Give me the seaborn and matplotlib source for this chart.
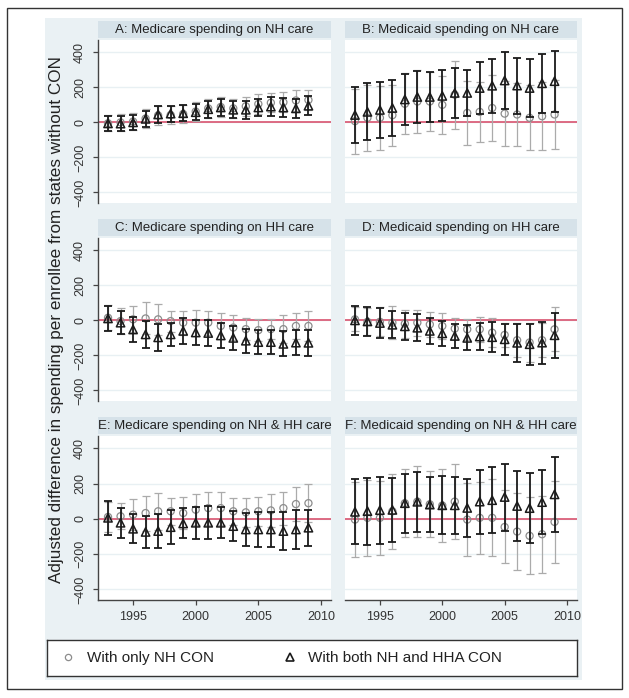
import matplotlib
matplotlib.use("Agg")
import matplotlib.pyplot as plt
from matplotlib.lines import Line2D
from matplotlib.patches import Rectangle
import seaborn as sns

years = list(range(1993, 2010))

titles = ["A: Medicare spending on NH care", "B: Medicaid spending on NH care",
          "C: Medicare spending on HH care", "D: Medicaid spending on HH care",
          "E: Medicare spending on NH & HH care", "F: Medicaid spending on NH & HH care"]
ylabel = "Adjusted difference in spending per enrollee from states without CON"
legend_labels = ["With only NH CON", "With both NH and HHA CON"]

# estimates and CI half widths (only NH CON = circles, both = triangles)
a_nh = [-5, 0, 5, 22, 40, 42, 48, 62, 80, 88, 80, 92, 105, 112, 115, 125, 128]
a_nh_ci = [46, 50, 51, 52, 53, 51, 52, 53, 54, 55, 54, 55, 57, 55, 56, 59, 56]
a_both = [-6, -7, 0, 20, 45, 50, 52, 58, 75, 85, 72, 72, 85, 90, 85, 80, 95]
a_both_ci = [43, 44, 44, 45, 46, 46, 46, 47, 48, 48, 48, 50, 50, 52, 52, 54, 55]

b_nh = [7, 26, 26, 41, 106, 119, 119, 100, 158, 54, 60, 82, 50, 45, 26, 35, 45]
b_nh_ci = [186, 190, 184, 173, 173, 177, 167, 167, 195, 184, 173, 186, 186, 177, 186, 195, 199]
b_both = [42, 60, 71, 82, 131, 145, 145, 151, 168, 168, 196, 209, 239, 210, 196, 223, 235]
b_both_ci = [161, 162, 162, 158, 146, 147, 143, 145, 144, 133, 151, 155, 161, 160, 168, 167, 175]

c_nh = [15, -4, 6, 11, 6, -4, -13, -13, -13, -32, -41, -50, -56, -50, -50, -32, -32]
c_nh_ci = [71, 75, 74, 91, 89, 60, 69, 74, 69, 75, 69, 61, 62, 56, 78, 75, 84]
c_both = [11, -13, -52, -80, -97, -80, -60, -69, -72, -86, -100, -116, -124, -124, -134, -127, -128]
c_both_ci = [72, 65, 70, 79, 78, 65, 75, 69, 72, 72, 68, 68, 67, 67, 71, 72, 75]

d_nh = [6, -8, -8, -13, -19, -13, -23, -32, -47, -51, -51, -70, -83, -113, -126, -113, -51]
d_nh_ci = [69, 76, 83, 94, 81, 75, 70, 75, 62, 60, 70, 81, 70, 96, 109, 96, 126]
d_both = [0, -6, -15, -25, -34, -42, -60, -74, -89, -100, -92, -96, -108, -128, -136, -127, -85]
d_both_ci = [83, 83, 84, 78, 77, 77, 75, 73, 71, 71, 77, 85, 87, 108, 118, 120, 129]

e_nh = [11, 15, 24, 33, 43, 43, 33, 52, 61, 61, 43, 37, 43, 48, 61, 84, 89]
e_nh_ci = [84, 74, 88, 99, 106, 78, 93, 88, 93, 93, 78, 84, 83, 92, 93, 98, 106]
e_both = [6, -22, -56, -74, -69, -47, -26, -22, -22, -22, -41, -60, -60, -60, -69, -60, -50]
e_both_ci = [96, 86, 82, 90, 98, 96, 85, 90, 94, 89, 86, 93, 97, 100, 109, 110, 102]

f_nh = [-4, 6, 6, 43, 89, 98, 83, 76, 98, -4, 6, 6, -46, -72, -96, -87, -17]
f_nh_ci = [212, 217, 208, 213, 194, 200, 188, 209, 213, 207, 204, 219, 207, 218, 219, 218, 233]
f_both = [40, 44, 50, 51, 89, 97, 81, 77, 77, 62, 98, 106, 124, 73, 61, 95, 139]
f_both_ci = [185, 190, 190, 183, 167, 170, 158, 165, 162, 162, 181, 188, 190, 198, 198, 183, 213]

panels = [(a_nh, a_nh_ci, a_both, a_both_ci), (b_nh, b_nh_ci, b_both, b_both_ci),
          (c_nh, c_nh_ci, c_both, c_both_ci), (d_nh, d_nh_ci, d_both, d_both_ci),
          (e_nh, e_nh_ci, e_both, e_both_ci), (f_nh, f_nh_ci, f_both, f_both_ci)]

sns.set_theme(style="white")
plt.rcParams['font.family'] = ['Liberation Sans', 'DejaVu Sans']

W, H = 629, 698
BG = '#EAF1F4'
STRIP = '#D6E2E9'
GRID = '#E8F0F3'
GRAY_BAR = '#ABABAB'
GRAY_MK = '#8C8C8C'
BLACK = '#1A1A1A'
RED = '#D9536F'
AXC = '#444444'


def box(x0, y0, x1, y1):
    # pixel box (from top left) -> figure fraction
    return [x0 / W, 1 - y1 / H, (x1 - x0) / W, (y1 - y0) / H]


fig = plt.figure(figsize=(W / 100, H / 100), dpi=100, facecolor='white')
fig.patches.append(Rectangle((45 / W, 1 - 680 / H), 537 / W, 662 / H, transform=fig.transFigure,
                             facecolor=BG, edgecolor='none', zorder=-2))
fig.patches.append(Rectangle((7 / W, 1 - 689 / H), 615 / W, 681 / H, transform=fig.transFigure,
                             fill=False, edgecolor='#333333', lw=1, zorder=-1))

cols = [(98, 331), (345, 577)]
rows = [(40, 203), (238, 401), (436, 600)]

for i, (nh, nh_ci, both, both_ci) in enumerate(panels):
    r, c = divmod(i, 2)
    x0, x1 = cols[c]
    y0, y1 = rows[r]
    ax = fig.add_axes(box(x0, y0, x1, y1))
    ax.set_facecolor('white')
    ax.set_xlim(1992.2, 2010.8)
    ax.set_ylim(-460, 470)
    ax.set_yticks([-400, -200, 0, 200, 400])
    ax.set_xticks([1995, 2000, 2005, 2010])
    ax.grid(axis='y', color=GRID, lw=1)
    ax.set_axisbelow(True)
    ax.axhline(0, color=RED, lw=1.2, zorder=1)

    ax.errorbar(years, nh, yerr=nh_ci, fmt='none', ecolor=GRAY_BAR, elinewidth=0.9,
                capsize=3, capthick=0.9, zorder=2)
    sns.scatterplot(x=years, y=nh, ax=ax, marker='o', s=26, color=GRAY_MK,
                    facecolor='none', edgecolor=GRAY_MK, linewidth=0.9, zorder=3)
    ax.errorbar(years, both, yerr=both_ci, fmt='none', ecolor=BLACK, elinewidth=1.3,
                capsize=3, capthick=1.3, zorder=4)
    sns.scatterplot(x=years, y=both, ax=ax, marker='^', s=36, color=BLACK,
                    facecolor='none', edgecolor=BLACK, linewidth=1.1, zorder=5)

    for side in ['top', 'right', 'left', 'bottom']:
        ax.spines[side].set_visible(False)
    if c == 0:
        ax.spines['left'].set_visible(True)
        ax.spines['left'].set_color(AXC)
        ax.spines['left'].set_linewidth(1)
        ax.tick_params(axis='y', left=True, length=3.6, width=0.9, color=AXC, pad=5,
                       labelsize=9, labelcolor='#333333', labelrotation=90)
        for lab in ax.get_yticklabels():
            lab.set_va('center')
    else:
        ax.tick_params(axis='y', left=False, labelleft=False)
    if r == 2:
        ax.spines['bottom'].set_visible(True)
        ax.spines['bottom'].set_color(AXC)
        ax.spines['bottom'].set_linewidth(1)
        ax.tick_params(axis='x', bottom=True, length=3.6, width=0.9, color=AXC, pad=4,
                       labelsize=9, labelcolor='#333333')
    else:
        ax.tick_params(axis='x', bottom=False, labelbottom=False)
    ax.set_xlabel('')
    ax.set_ylabel('')

    sax = fig.add_axes(box(x0, y0 - 19, x1, y0 - 2))
    sax.set_facecolor(STRIP)
    sax.set_xticks([])
    sax.set_yticks([])
    for sp in sax.spines.values():
        sp.set_visible(False)
    sax.text(0.5, 0.45, titles[i], ha='center', va='center', fontsize=9.5, color='#222222',
             transform=sax.transAxes)

fig.text(57 / W, 1 - 320 / H, ylabel, rotation=90, ha='center', va='center',
         fontsize=12.3, color='#222222')

lax = fig.add_axes(box(47, 640, 577, 676))
lax.set_facecolor('white')
lax.set_xticks([])
lax.set_yticks([])
for sp in lax.spines.values():
    sp.set_visible(True)
    sp.set_color('#333333')
    sp.set_linewidth(1)
handles = [Line2D([], [], marker='o', ls='none', mfc='none', mec=GRAY_MK, ms=4.5, mew=0.9,
                  label=legend_labels[0]),
           Line2D([], [], marker='^', ls='none', mfc='none', mec=BLACK, ms=5.5, mew=1.2,
                  label=legend_labels[1])]
leg = lax.legend(handles=handles, ncol=2, loc='center left', bbox_to_anchor=(0, 0.5),
                 frameon=False, fontsize=11, handlelength=1, handletextpad=0.7,
                 columnspacing=4.5)
for t in leg.get_texts():
    t.set_color('#222222')

fig.savefig('out.png', dpi=100, facecolor='white')
